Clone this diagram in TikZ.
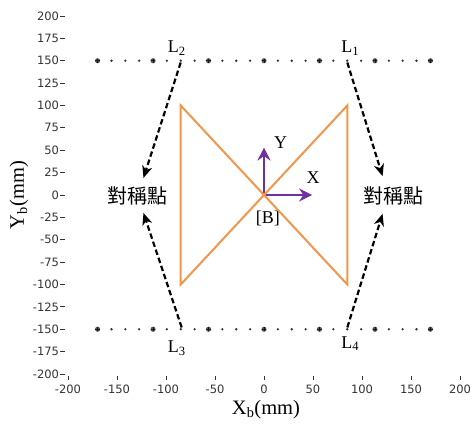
\documentclass[tikz,border=0pt]{standalone}
\usepackage{fontspec}
\setmainfont{Liberation Serif}
\newfontfamily\tickfont{DejaVu Sans}
\newfontfamily\cjk{Noto Sans CJK TC}
\usepackage{xcolor}
\usetikzlibrary{arrows.meta}
\definecolor{bowOrange}{HTML}{F2964A}
\definecolor{framePurple}{HTML}{7030A0}
\definecolor{tickGray}{HTML}{333333}

\begin{document}
\begin{tikzpicture}[x=1pt, y=1pt,
    tickLabel/.style={font=\tickfont\fontsize{11.5}{13}\selectfont, text=tickGray, inner sep=0pt},
    axisTitle/.style={font=\fontsize{20.5}{24}\selectfont, inner sep=0pt},
    lineLabel/.style={font=\fontsize{18}{20}\selectfont, inner sep=0pt},
    symText/.style={font=\cjk\fontsize{20}{24}\selectfont, inner sep=0pt},
    dashArrow/.style={-{Stealth[length=12pt, width=10pt, inset=3.5pt]}, line width=2.2pt, dash pattern=on 5.5pt off 3pt},
    frameArrow/.style={-{Stealth[length=13pt, width=13pt, inset=4.5pt]}, line width=2.4pt, draw=framePurple}
]
\useasboundingbox (0,0) rectangle (472,426);
\begin{scope}[shift={(264,231)}, x=0.98pt, y=0.895pt]
    % axis ticks
    \foreach \v in {-200,-175,...,200} {
        \draw[tickGray, line width=0.9pt] (-208,\v) -- (-203,\v);
        \node[tickLabel, anchor=east] (yl\v) at (-209,\v) {\v};
    }
    \foreach \u in {-200,-150,...,200} {
        \draw[tickGray, line width=0.9pt] (\u,-202) -- (\u,-207);
        \node[tickLabel] (xl\u) at (\u,-217) {\u};
    }
    \node[axisTitle] (xTitle) at (2,-240) {X\textsubscript{b}(mm)};
    \node[axisTitle, rotate=90] (yTitle) at (-250,0) {Y\textsubscript{b}(mm)};

    % dotted lines
    \foreach \yy in {150,-150} {
        \foreach \i in {-12,...,12} {
            \pgfmathtruncatemacro\r{mod(abs(\i),4)}
            \ifnum\r=0
                \fill[black!65] (\i*14.15,\yy) circle (2.6pt);
                \draw[black!90, line width=0.6pt] (\i*14.15-2.2,\yy) -- ++(4.4,0) (\i*14.15,\yy-2.4) -- ++(0,4.8);
            \else
                \fill[black!80] (\i*14.15,\yy) circle (1.3pt);
            \fi
        }
    }

    % frame B
    \coordinate (B) at (0,0);
    \coordinate (yTip) at (0,53);
    \coordinate (xTip) at (49,0);
    \draw[frameArrow] (B) -- (yTip);
    \draw[frameArrow] (B) -- (xTip);
    \node[lineLabel] (yName) at (17,58) {Y};
    \node[lineLabel] (xName) at (50,19) {X};
    \node[lineLabel] (bName) at (4,-26) {[B]};

    % bowtie
    \draw[bowOrange, line width=2pt] (-85,100) -- (85,-100) -- (85,100) -- (-85,-100) -- cycle;

    % symmetric points
    \node[symText] (symL) at (-128.6,-1) {對稱點};
    \node[symText] (symR) at (132,-1) {對稱點};

    % L1..L4
    \coordinate (s1) at (85,148);
    \coordinate (s2) at (-85,148);
    \coordinate (s3) at (-84,-148);
    \coordinate (s4) at (85,-148);
    \coordinate (t1) at (121,21);
    \coordinate (t2) at (-123,19);
    \coordinate (t3) at (-123,-20);
    \coordinate (t4) at (121,-21);
    \draw[dashArrow] (s1) -- (t1);
    \draw[dashArrow] (s2) -- (t2);
    \draw[dashArrow] (s3) -- (t3);
    \draw[dashArrow] (s4) -- (t4);
    \node[lineLabel] (lOne) at (88,164) {L\textsubscript{1}};
    \node[lineLabel] (lTwo) at (-89,164) {L\textsubscript{2}};
    \node[lineLabel] (lThree) at (-89,-171) {L\textsubscript{3}};
    \node[lineLabel] (lFour) at (88,-166) {L\textsubscript{4}};
\end{scope}
\end{tikzpicture}
\end{document}
